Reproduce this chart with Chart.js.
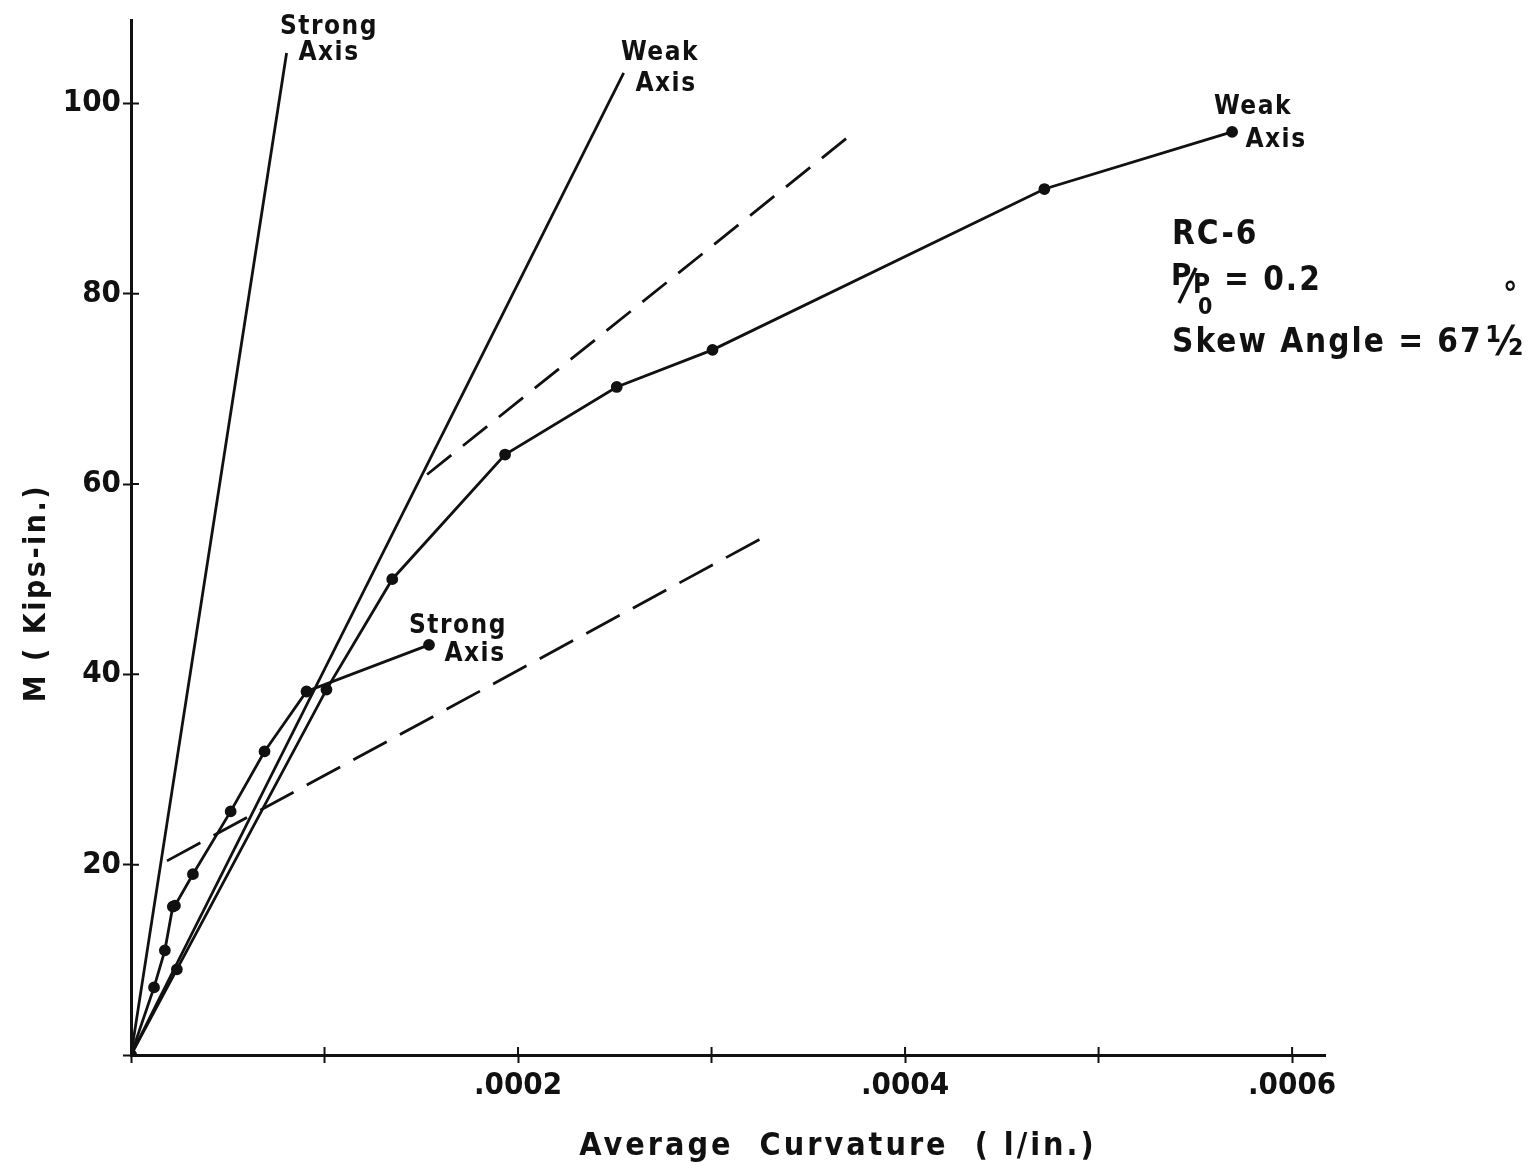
<!DOCTYPE html>
<html>
<head>
<meta charset="utf-8">
<script src="https://cdn.jsdelivr.net/npm/chart.js@4.4.0/dist/chart.umd.min.js"></script>
<style>
  html, body { margin: 0; background: #fff; }
</style>
</head>
<body>
<canvas id="chart" width="1532" height="1165"></canvas>
<script>
// curvature (1/in.) vs moment M (kips-in.)
const strongElasticX = [0, 0.0000804];
const strongElasticM = [0, 105.3];

const weakElasticX = [0, 0.0002546];
const weakElasticM = [0, 103.2];

const strongTestX = [0, 0.0000119, 0.0000175, 0.0000216, 0.0000227, 0.000032, 0.0000515, 0.000069, 0.0000907, 0.000154];
const strongTestM = [0, 7.1, 11.0, 15.6, 15.7, 19.0, 25.6, 31.9, 38.2, 43.1];

const weakTestX = [0, 0.0000237, 0.000101, 0.000135, 0.0001933, 0.000251, 0.0003005, 0.000472, 0.000569];
const weakTestM = [0, 9.0, 38.4, 50.0, 63.1, 70.2, 74.1, 91.0, 97.0];

const dashLowX = [0.0000186, 0.000325];
const dashLowM = [20.4, 54.2];
const dashHighX = [0.000153, 0.000372];
const dashHighM = [61.0, 96.7];

const xLabelled = [2, 4, 6];            // in units of .0001
const xLabelText = ['.0002', '.0004', '.0006'];
const yLabelled = [20, 40, 60, 80, 100];

const ink = '#111';
const face = '"DejaVu Sans Condensed", "DejaVu Sans"';

function pts(xs, ys) {
  return xs.map((x, i) => ({x: x, y: ys[i]}));
}

function line(xs, ys, extra) {
  return Object.assign({
    data: pts(xs, ys),
    showLine: true,
    borderColor: ink,
    backgroundColor: ink,
    borderWidth: 2.8,
    pointRadius: 0,
    tension: 0
  }, extra || {});
}

function text(ctx, str, x, y, size, spacing, align) {
  ctx.font = 'bold ' + size + 'px ' + face;
  ctx.letterSpacing = (spacing || 0) + 'px';
  ctx.textAlign = align || 'left';
  ctx.fillText(str, x, y);
}

// inward half of the crossing tick marks, plus the lettering
const notes = {
  id: 'notes',
  afterDraw(chart) {
    const ctx = chart.ctx;
    const xs = chart.scales.x, ys = chart.scales.y;
    const area = chart.chartArea;
    ctx.save();
    ctx.strokeStyle = ink;
    ctx.lineWidth = 2;
    ctx.beginPath();
    xs.ticks.forEach(t => {
      const px = xs.getPixelForValue(t.value);
      ctx.moveTo(px, area.bottom);
      ctx.lineTo(px, area.bottom - 8);
    });
    ys.ticks.forEach(t => {
      const py = ys.getPixelForValue(t.value);
      ctx.moveTo(area.left, py);
      ctx.lineTo(area.left + 8, py);
    });
    ctx.stroke();

    ctx.fillStyle = ink;
    ctx.textBaseline = 'alphabetic';
    text(ctx, 'Strong', 329, 34, 26, 1.5, 'center');
    text(ctx, 'Axis', 329, 60, 26, 1.5, 'center');
    text(ctx, 'Weak', 660, 60, 26, 1.5, 'center');
    text(ctx, 'Axis', 666, 91, 26, 1.5, 'center');
    text(ctx, 'Weak', 1253, 114, 26, 1.5, 'center');
    text(ctx, 'Axis', 1276, 147, 26, 1.5, 'center');
    text(ctx, 'Strong', 458, 633, 26, 1.5, 'center');
    text(ctx, 'Axis', 475, 661, 26, 1.5, 'center');

    text(ctx, 'RC-6', 1172, 244, 33, 2);
    text(ctx, 'P', 1171, 285, 31, 0);
    ctx.lineWidth = 3.5;
    ctx.beginPath();
    ctx.moveTo(1179, 303);
    ctx.lineTo(1196, 268);
    ctx.stroke();
    text(ctx, 'P', 1193, 293, 26, 0);
    text(ctx, '0', 1198, 314, 23, 0);
    text(ctx, '= 0.2', 1224, 290, 33, 2);
    text(ctx, 'Skew Angle = 67', 1172, 352, 33, 2);
    text(ctx, '\u00bd', 1486, 355, 40, 0);
    text(ctx, '\u00b0', 1503, 305, 32, 0);

    // axis titles
    text(ctx, 'Average  Curvature  ( l/in.)', 838, 1155, 32, 3, 'center');
    ctx.translate(45, 593);
    ctx.rotate(-Math.PI / 2);
    text(ctx, 'M ( Kips-in.)', 0, 0, 30, 2.5, 'center');
    ctx.restore();
  }
};

const tickFont = {family: face, size: 31, weight: 'bold'};

new Chart(document.getElementById('chart'), {
  type: 'scatter',
  data: {
    datasets: [
      line(strongElasticX, strongElasticM),
      line(weakElasticX, weakElasticM),
      line(strongTestX, strongTestM, {pointRadius: 4.5}),
      line(weakTestX, weakTestM, {pointRadius: 4.5}),
      line(dashLowX, dashLowM, {borderDash: [38, 15]}),
      line(dashHighX, dashHighM, {borderDash: [31, 15]})
    ]
  },
  options: {
    responsive: false,
    animation: false,
    layout: {padding: {left: 0, right: 207, top: 16, bottom: 0}},
    plugins: {legend: {display: false}, tooltip: {enabled: false}},
    scales: {
      x: {
        type: 'linear',
        min: 0,
        max: 0.000617,
        border: {color: ink, width: 3},
        grid: {drawOnChartArea: false, tickLength: 8, tickWidth: 2, tickColor: ink},
        ticks: {
          stepSize: 0.0001,
          includeBounds: false,
          autoSkip: false,
          maxRotation: 0,
          padding: 4,
          color: ink,
          font: tickFont,
          callback: v => {
            const i = xLabelled.indexOf(Math.round(v * 10000));
            return i < 0 ? '' : xLabelText[i];
          }
        },
        afterFit: s => { s.height = 110; }
      },
      y: {
        min: 0,
        max: 108.7,
        border: {color: ink, width: 3},
        grid: {drawOnChartArea: false, tickLength: 8, tickWidth: 2, tickColor: ink},
        ticks: {
          stepSize: 20,
          includeBounds: false,
          padding: 2,
          color: ink,
          font: tickFont,
          callback: v => yLabelled.includes(v) ? String(v) : ''
        },
        afterFit: s => { s.width = 131; }
      }
    }
  },
  plugins: [notes]
});
</script>
</body>
</html>
